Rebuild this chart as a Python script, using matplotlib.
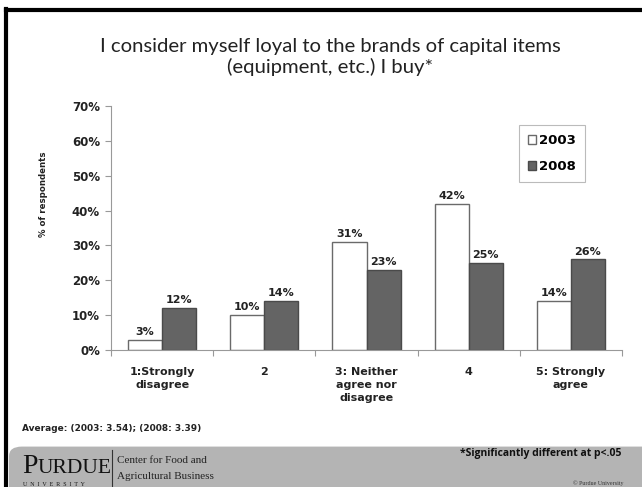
import numpy as np
import matplotlib.pyplot as plt
from matplotlib.patches import FancyBboxPatch
from matplotlib.lines import Line2D

categories = ["1:Strongly\ndisagree", "2", "3: Neither\nagree nor\ndisagree", "4", "5: Strongly\nagree"]
vals_2003 = [3, 10, 31, 42, 14]
vals_2008 = [12, 14, 23, 25, 26]
series_names = ["2003", "2008"]
y_ticks = [0, 10, 20, 30, 40, 50, 60, 70]

fig = plt.figure(figsize=(6.42, 4.87), dpi=100)
fig.patch.set_facecolor("white")

# slide frame (black border top/left)
fig.add_artist(Line2D([0.0093, 0.0093], [0, 0.982], transform=fig.transFigure, color="black", lw=3))
fig.add_artist(Line2D([0.0093, 1.0], [0.980, 0.980], transform=fig.transFigure, color="black", lw=3))

# footer band
band = FancyBboxPatch((0.014, -0.05), 1.2, 0.133, boxstyle="round,pad=0,rounding_size=0.02",
                      transform=fig.transFigure, facecolor="#b4b4b4", edgecolor="none")
fig.add_artist(band)

ax = fig.add_axes([0.1729, 0.2813, 0.796, 0.501])
x = np.arange(len(categories))
w = 0.333
ax.bar(x - w / 2, vals_2003, w, color="white", edgecolor="#6a6a6a", linewidth=1.0, label=series_names[0])
ax.bar(x + w / 2, vals_2008, w, color="#646464", edgecolor="#4a4a4a", linewidth=1.0, label=series_names[1])

for xi, v in zip(x - w / 2, vals_2003):
    ax.text(xi, v + 0.8, f"{v}%", ha="center", va="bottom", fontsize=8, fontweight="bold", color="#222222")
for xi, v in zip(x + w / 2, vals_2008):
    ax.text(xi, v + 0.8, f"{v}%", ha="center", va="bottom", fontsize=8, fontweight="bold", color="#222222")

ax.set_xlim(-0.5, len(categories) - 0.5)
ax.set_ylim(0, 70)
ax.set_yticks(y_ticks)
ax.set_yticklabels([f"{t}%" for t in y_ticks], fontsize=8.5, fontweight="bold", color="#222222")
ax.set_xticks(x)
ax.set_xticklabels(categories, fontsize=8, fontweight="bold", color="#222222", linespacing=1.4)
ax.tick_params(axis="x", length=0, pad=12)
ax.tick_params(axis="y", length=4, color="#999999", width=0.8, pad=4)
# category boundary ticks
ax.set_xticks(np.arange(-0.5, len(categories), 1), minor=True)
ax.tick_params(axis="x", which="minor", length=4, color="#999999", width=0.8, direction="out")

for s in ["top", "right"]:
    ax.spines[s].set_visible(False)
for s in ["left", "bottom"]:
    ax.spines[s].set_color("#999999")
    ax.spines[s].set_linewidth(0.8)

ax.set_ylabel("% of respondents", fontsize=6.2, fontweight="bold", color="#222222")
ax.yaxis.set_label_coords(-0.123, 0.64)

leg = ax.legend(loc="upper right", bbox_to_anchor=(0.94, 0.95), prop={"weight": "bold", "size": 9.5},
                frameon=True, fancybox=False, edgecolor="#aaaaaa", handlelength=0.6, handleheight=0.6,
                handletextpad=0.2, borderpad=0.7, labelspacing=1.0)
leg.get_frame().set_linewidth(0.8)

fig.text(0.514, 0.883, "I consider myself loyal to the brands of capital items\n(equipment, etc.) I buy*",
         ha="center", va="center", fontsize=14.6, family="Lato", color="#222222", linespacing=1.2)

fig.text(0.034, 0.121, "Average: (2003: 3.54); (2008: 3.39)", ha="left", va="center",
         fontsize=6.5, fontweight="bold", color="#222222")

# footer texts
fig.text(0.034, 0.028, "P", ha="left", va="baseline", fontsize=20, family="Liberation Serif", color="#111111")
fig.text(0.058, 0.028, "URDUE", ha="left", va="baseline", fontsize=15.5, family="Liberation Serif",
         color="#111111")
fig.text(0.036, 0.006, "U  N  I  V  E  R  S  I  T  Y", ha="left", va="center", fontsize=4.3,
         family="Liberation Serif", color="#111111")
fig.add_artist(Line2D([0.174, 0.174], [0.0, 0.075], transform=fig.transFigure, color="#333333", lw=0.8))
fig.text(0.183, 0.054, "Center for Food and", ha="left", va="center", fontsize=8,
         family="Liberation Serif", color="#222222")
fig.text(0.183, 0.022, "Agricultural Business", ha="left", va="center", fontsize=8,
         family="Liberation Serif", color="#222222")
fig.text(0.968, 0.068, "*Significantly different at p<.05", ha="right", va="center", fontsize=7.5,
         fontweight="bold", family="Open Sans", color="#111111")
fig.text(0.893, 0.003, "© Purdue University", ha="left", va="bottom", fontsize=4.3,
         family="Liberation Serif", color="#333333")

fig.savefig("out.png", dpi=100)
